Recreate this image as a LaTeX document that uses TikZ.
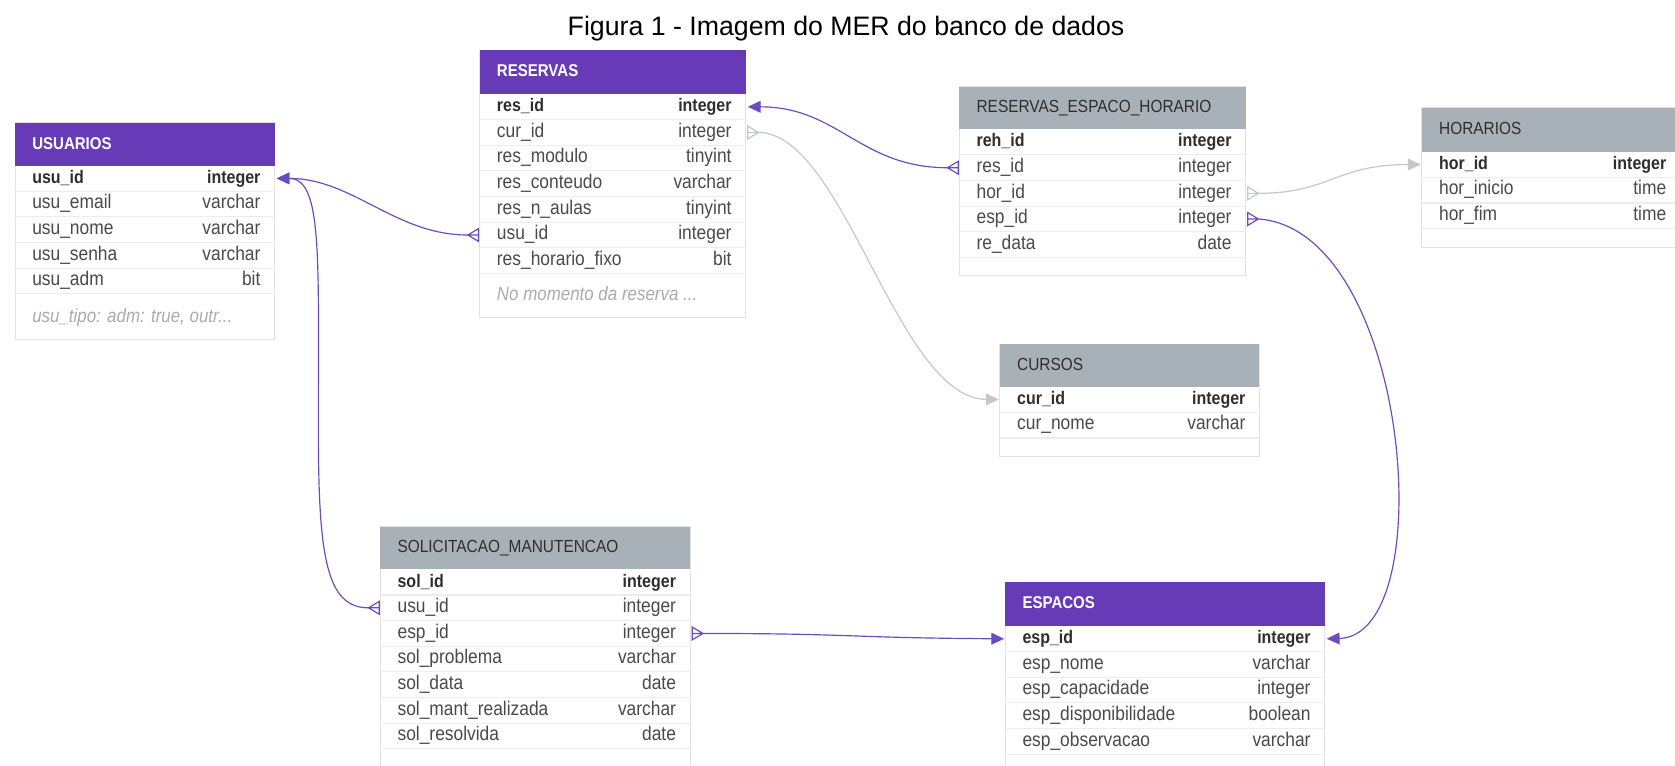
\documentclass[tikz,border=0pt]{standalone}
\usepackage{fontspec}
\setmainfont{Liberation Sans}
\newfontfamily\condf[FakeStretch=0.88]{Liberation Sans}
\usetikzlibrary{arrows.meta}
\definecolor{hpurple}{HTML}{673AB7}
\definecolor{hgray}{HTML}{A9B1B8}
\definecolor{lpurple}{HTML}{6A4CBC}
\definecolor{lgray}{HTML}{C3C7CB}
\definecolor{rtext}{HTML}{4A4A4A}
\definecolor{ktext}{HTML}{2E2E2E}
\definecolor{ntext}{HTML}{ABABAB}
\definecolor{sepc}{HTML}{EDEDED}
\definecolor{framec}{HTML}{E2E2E2}

\tikzset{
  fieldtext/.style={font=\condf\fontsize{18.5}{20}\selectfont, text=rtext, inner sep=0pt, text height=13pt, text depth=4pt},
  keytext/.style={font=\condf\bfseries\fontsize{17}{20}\selectfont, text=ktext, inner sep=0pt, text height=13pt, text depth=4pt},
  notetext/.style={font=\condf\itshape\fontsize{18}{20}\selectfont, text=ntext, inner sep=0pt, text height=13pt, text depth=4pt, anchor=west},
  phead/.style={font=\condf\bfseries\fontsize{16}{18}\selectfont, text=white, anchor=west, inner sep=0pt, text height=12pt, text depth=3pt},
  ghead/.style={font=\condf\fontsize{16.4}{18}\selectfont, text=ktext, anchor=west, inner sep=0pt, text height=12pt, text depth=3pt},
  rowsep/.style={draw=sepc, line width=1pt},
  relp/.style={draw=lpurple, line width=1.1pt},
  relg/.style={draw=lgray, line width=1.1pt},
  onetip/.style={-{Triangle[length=12pt,width=11pt]}},
}

% #1 id, #2 left, #3 right, #4 header top, #5 header bottom, #6 body bottom, #7 header fill, #8 header style, #9 title
\newcommand{\ertable}[9]{%
  \path[fill=white,draw=framec,line width=0.8pt] (#2,#4) rectangle (#3,#6);
  \fill[#7] (#2,#4) rectangle (#3,#5);
  \node[#8] (#1) at (#2+16,{(#4+#5)/2}) {#9};
}
% #1 tab id, #2 idx, #3 left, #4 right, #5 top, #6 style, #7 field, #8 type
\newcommand{\errow}[8]{%
  \draw[rowsep] (#3,#5+24) -- (#4,#5+24);
  \node[#6,anchor=west] (#1-#2) at (#3+16,#5+12) {#7};
  \node[#6,anchor=east] (#1-#2t) at (#4-13,#5+12) {#8};
  \coordinate (#1-#2L) at (#3-1,#5+12);
  \coordinate (#1-#2R) at (#4+2,#5+12);
  \coordinate (#1-#2La) at (#3-11,#5+12);
  \coordinate (#1-#2Ra) at (#4+12,#5+12);
}
\newcommand{\crowR}[2]{%
  \draw[#2,shift={(#1)}] (10,0) -- (0,-6) -- (0,6) -- cycle (10,0) -- (0,0);
}
\newcommand{\crowL}[2]{%
  \draw[#2,shift={(#1)}] (-10,0) -- (0,-6) -- (0,6) -- cycle (-10,0) -- (0,0);
}

\begin{document}
\begin{tikzpicture}[x=1pt,y=-1pt]
\useasboundingbox[fill=white] (0,0) rectangle (1568,717);

\node[font=\fontsize{25}{28}\selectfont, anchor=base] (title) at (792,33) {Figura 1 - Imagem do MER do banco de dados};

% USUARIOS
\ertable{usu}{14}{257}{115}{155}{318}{hpurple}{phead}{USUARIOS}
\errow{usu}{1}{14}{257}{155}{keytext}{usu\_id}{integer}
\errow{usu}{2}{14}{257}{179}{fieldtext}{usu\_email}{varchar}
\errow{usu}{3}{14}{257}{203}{fieldtext}{usu\_nome}{varchar}
\errow{usu}{4}{14}{257}{227}{fieldtext}{usu\_senha}{varchar}
\errow{usu}{5}{14}{257}{251}{fieldtext}{usu\_adm}{bit}
\node[notetext] (usunote) at (30,297) {usu\_tipo: adm: true, outr...};

% RESERVAS
\ertable{res}{449}{698}{47}{88}{297}{hpurple}{phead}{RESERVAS}
\errow{res}{1}{449}{698}{88}{keytext}{res\_id}{integer}
\errow{res}{2}{449}{698}{112}{fieldtext}{cur\_id}{integer}
\errow{res}{3}{449}{698}{136}{fieldtext}{res\_modulo}{tinyint}
\errow{res}{4}{449}{698}{160}{fieldtext}{res\_conteudo}{varchar}
\errow{res}{5}{449}{698}{184}{fieldtext}{res\_n\_aulas}{tinyint}
\errow{res}{6}{449}{698}{208}{fieldtext}{usu\_id}{integer}
\errow{res}{7}{449}{698}{232}{fieldtext}{res\_horario\_fixo}{bit}
\node[notetext] (resnote) at (465,277) {No momento da reserva ...};

% RESERVAS_ESPACO_HORARIO
\ertable{reh}{898}{1166}{81}{121}{258}{hgray}{ghead}{RESERVAS\_ESPACO\_HORARIO}
\errow{reh}{1}{898}{1166}{121}{keytext}{reh\_id}{integer}
\errow{reh}{2}{898}{1166}{145}{fieldtext}{res\_id}{integer}
\errow{reh}{3}{898}{1166}{169}{fieldtext}{hor\_id}{integer}
\errow{reh}{4}{898}{1166}{193}{fieldtext}{esp\_id}{integer}
\errow{reh}{5}{898}{1166}{217}{fieldtext}{re\_data}{date}

% HORARIOS
\ertable{hor}{1331}{1573}{101}{142}{232}{hgray}{ghead}{HORARIOS}
\errow{hor}{1}{1331}{1573}{142}{keytext}{hor\_id}{integer}
\errow{hor}{2}{1331}{1573}{166}{fieldtext}{hor\_inicio}{time}
\errow{hor}{3}{1331}{1573}{190}{fieldtext}{hor\_fim}{time}

% CURSOS
\ertable{cur}{936}{1179}{322}{362}{427}{hgray}{ghead}{CURSOS}
\errow{cur}{1}{936}{1179}{362}{keytext}{cur\_id}{integer}
\errow{cur}{2}{936}{1179}{386}{fieldtext}{cur\_nome}{varchar}

% SOLICITACAO_MANUTENCAO
\ertable{sol}{356}{646}{493}{533}{725}{hgray}{ghead}{SOLICITACAO\_MANUTENCAO}
\errow{sol}{1}{356}{646}{533}{keytext}{sol\_id}{integer}
\errow{sol}{2}{356}{646}{557}{fieldtext}{usu\_id}{integer}
\errow{sol}{3}{356}{646}{581}{fieldtext}{esp\_id}{integer}
\errow{sol}{4}{356}{646}{605}{fieldtext}{sol\_problema}{varchar}
\errow{sol}{5}{356}{646}{629}{fieldtext}{sol\_data}{date}
\errow{sol}{6}{356}{646}{653}{fieldtext}{sol\_mant\_realizada}{varchar}
\errow{sol}{7}{356}{646}{677}{fieldtext}{sol\_resolvida}{date}

% ESPACOS
\ertable{esp}{941}{1240}{545}{586}{725}{hpurple}{phead}{ESPACOS}
\errow{esp}{1}{941}{1240}{586}{keytext}{esp\_id}{integer}
\errow{esp}{2}{941}{1240}{610}{fieldtext}{esp\_nome}{varchar}
\errow{esp}{3}{941}{1240}{634}{fieldtext}{esp\_capacidade}{integer}
\errow{esp}{4}{941}{1240}{658}{fieldtext}{esp\_disponibilidade}{boolean}
\errow{esp}{5}{941}{1240}{682}{fieldtext}{esp\_observacao}{varchar}

% connectors
\draw[relp,onetip] (res-6La) .. controls (370,220) and (330,167) .. (usu-1R);
\draw[relp,onetip] (sol-2La) .. controls (305,569) and (298,520) .. (298,400) .. controls (298,240) and (302,167) .. (usu-1R);
\draw[relp,onetip] (reh-2La) .. controls (805,157) and (785,100) .. (res-1R);
\draw[relg,onetip] (res-2Ra) .. controls (790,124) and (840,373) .. (cur-1L);
\draw[relg,onetip] (reh-3Ra) .. controls (1245,181) and (1250,154) .. (hor-1L);
\draw[relp,onetip] (reh-4Ra) .. controls (1320,215) and (1350,595) .. (esp-1R);
\draw[relp,onetip] (sol-3Ra) .. controls (800,593) and (790,597) .. (esp-1L);

\crowL{res-6L}{relp}
\crowL{sol-2L}{relp}
\crowL{reh-2L}{relp}
\crowR{res-2R}{relg}
\crowR{reh-3R}{relg}
\crowR{reh-4R}{relp}
\crowR{sol-3R}{relp}
\end{tikzpicture}
\end{document}
